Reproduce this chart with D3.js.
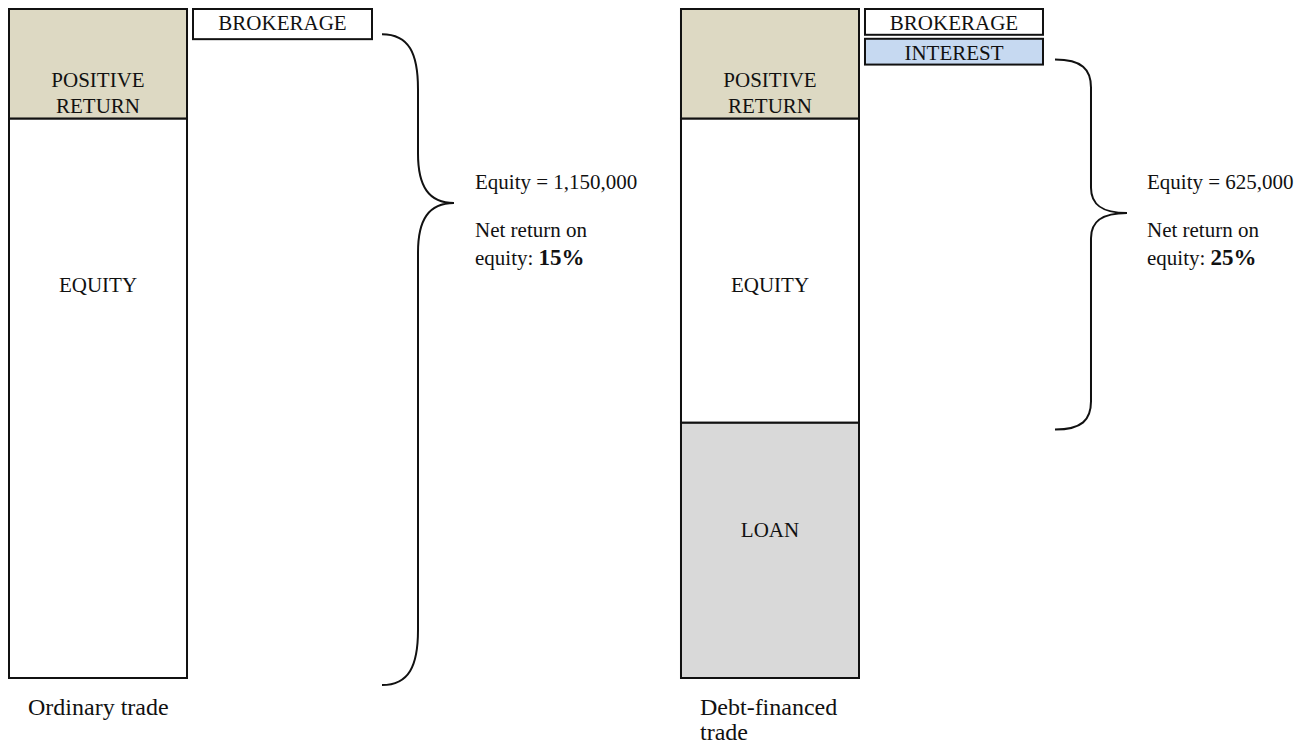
<!DOCTYPE html>
<html>
<head>
<meta charset="utf-8">
<script src="https://cdn.jsdelivr.net/npm/d3@7"></script>
<style>
  html, body { margin: 0; padding: 0; background: #fff; }
  svg text { font-family: "Liberation Serif", "Times New Roman", serif; fill: #111; }
</style>
</head>
<body>
<div id="chart"></div>
<script>
// Données
const trades = ["Ordinary trade", "Debt-financed trade"];
const tradeLabels = [["Ordinary trade"], ["Debt-financed", "trade"]];
const segmentKeys = ["loan", "equity", "positive"];
const segmentNames = { loan: ["LOAN"], equity: ["EQUITY"], positive: ["POSITIVE", "RETURN"] };
const loanValues = [0, 525000];
const equityValues = [1150000, 625000];
const positiveValues = [225000, 225000];
const brokerageValues = [62000, 53000];
const interestValues = [0, 53000];
const netReturns = ["15%", "25%"];

// Mise en page
const W = 1300, H = 749;
const fill = { loan: "#d9d9d9", equity: "#ffffff", positive: "#ddd9c3", brokerage: "#ffffff", interest: "#c6d9f1" };
const braceCusp = [203, 213];
const braceRadius = [55, 28];

const svg = d3.select("#chart").append("svg")
  .attr("width", W).attr("height", H);

const x = d3.scaleBand().domain(trades).range([9, 859]).paddingInner(0.7351);
const y = d3.scaleLinear().domain([0, 1375000]).range([678, 9]);
const h = v => y(0) - y(v);

const rows = trades.map((t, i) => ({
  trade: t, loan: loanValues[i], equity: equityValues[i], positive: positiveValues[i]
}));
const stacked = d3.stack().keys(segmentKeys)(rows);

// Colonnes empilées
stacked.forEach(layer => {
  const key = layer.key;
  const g = svg.append("g").attr("class", "seg-" + key);
  const items = layer.map(d => ({ key, trade: d.data.trade, y0: d[0], y1: d[1] }))
    .filter(d => d.y1 > d.y0);

  g.selectAll("rect").data(items).enter().append("rect")
    .attr("x", d => x(d.trade))
    .attr("y", d => y(d.y1))
    .attr("width", x.bandwidth())
    .attr("height", d => y(d.y0) - y(d.y1))
    .attr("fill", fill[key])
    .attr("stroke", "#111")
    .attr("stroke-width", 2);

  items.forEach(d => {
    const lines = segmentNames[key];
    const top = y(d.y1), bottom = y(d.y0);
    let base;
    if (key === "positive") base = bottom - 5 - (lines.length - 1) * 26;
    else if (key === "equity") base = top + 174;
    else base = top + 114;
    lines.forEach((ln, j) => {
      g.append("text")
        .attr("x", x(d.trade) + x.bandwidth() / 2)
        .attr("y", base + j * 26)
        .attr("text-anchor", "middle")
        .style("font-size", "21px")
        .text(ln);
    });
  });
});

// Frais (courtage, intérêts) à droite de chaque colonne
function brace(x0, top, bottom, cusp, r) {
  const w = 36;
  const p = d3.path();
  p.moveTo(x0, top);
  p.bezierCurveTo(x0 + w * 0.75, top, x0 + w, top + r * 0.35, x0 + w, top + r);
  p.lineTo(x0 + w, cusp - r * 0.9);
  p.bezierCurveTo(x0 + w, cusp - r * 0.3, x0 + w * 1.3, cusp, x0 + 2 * w, cusp);
  p.bezierCurveTo(x0 + w * 1.3, cusp, x0 + w, cusp + r * 0.3, x0 + w, cusp + r * 0.9);
  p.lineTo(x0 + w, bottom - r);
  p.bezierCurveTo(x0 + w, bottom - r * 0.35, x0 + w * 0.75, bottom, x0, bottom);
  return p.toString();
}

trades.forEach((t, i) => {
  const bx = x(t) + 184;
  const bw = 179 - i;
  const g = svg.append("g").attr("class", "costs");
  const costs = [{ name: "BROKERAGE", v: brokerageValues[i], f: fill.brokerage },
                 { name: "INTEREST", v: interestValues[i], f: fill.interest }].filter(c => c.v > 0);
  let cy = y.range()[1];
  costs.forEach((c, j) => {
    const ch = h(c.v);
    g.append("rect")
      .attr("x", bx).attr("y", cy)
      .attr("width", bw).attr("height", ch)
      .attr("fill", c.f).attr("stroke", "#111").attr("stroke-width", 2);
    g.append("text")
      .attr("x", bx + bw / 2).attr("y", cy + 21)
      .attr("text-anchor", "middle")
      .style("font-size", "21px")
      .text(c.name);
    cy += ch + 4;
  });
  const costBottom = cy - 4;

  // Accolade sur la partie financée par les fonds propres
  const eqBottom = y(rows[i].loan);
  svg.append("path")
    .attr("d", brace(x(t) + 373 + i, costBottom - 5, eqBottom + 7, braceCusp[i], braceRadius[i]))
    .attr("fill", "none").attr("stroke", "#111").attr("stroke-width", 2);

  const tx = x(t) + 466;
  svg.append("text").attr("x", tx).attr("y", 189)
    .style("font-size", "21px")
    .text("Equity = " + d3.format(",")(equityValues[i]));
  svg.append("text").attr("x", tx).attr("y", 237)
    .style("font-size", "21px").text("Net return on");
  const t2 = svg.append("text").attr("x", tx).attr("y", 265).style("font-size", "21px");
  t2.append("tspan").text("equity: ");
  t2.append("tspan").style("font-weight", "bold").style("font-size", "23px").text(netReturns[i]);

  // Libellé sous la colonne
  tradeLabels[i].forEach((ln, j) => {
    svg.append("text")
      .attr("x", x(t) + 19).attr("y", 715 + j * 25)
      .style("font-size", "24px")
      .text(ln);
  });
});
</script>
</body>
</html>
